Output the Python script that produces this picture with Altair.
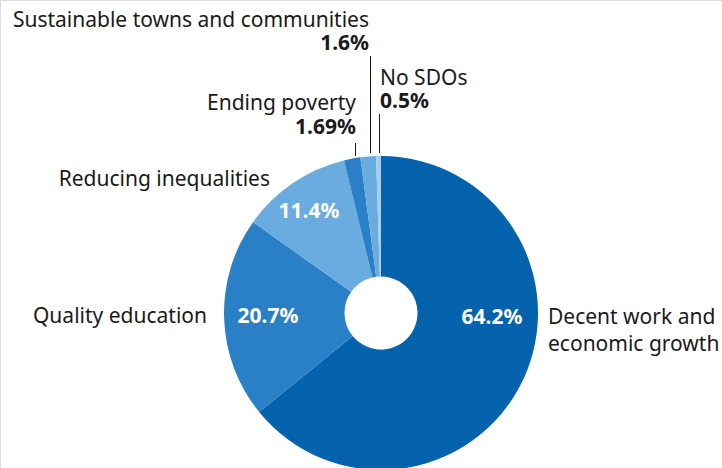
import altair as alt
import pandas as pd

# Data
categories = ["Decent work and economic growth", "Quality education", "Reducing inequalities",
              "Ending poverty", "Sustainable towns and communities", "No SDOs"]
values = [64.2, 20.7, 11.4, 1.69, 1.6, 0.5]
colors = ["#0563ae", "#2a80c6", "#6aacdf", "#2a80c6", "#6aacdf", "#a9cce9"]

# Annotation text
pct_labels = ["64.2%", "20.7%", "11.4%"]
name_lines = ["Decent work and", "economic growth", "Quality education", "Reducing inequalities",
              "Ending poverty", "Sustainable towns and communities", "No SDOs"]
small_pct = ["1.69%", "1.6%", "0.5%"]

# Annotation layout (pixels)
pct_x = [492, 268, 309]
pct_y = [324, 323, 218]
name_x = [548, 548, 207, 270, 356, 369, 380]
name_y = [324, 351, 323, 186, 110, 27, 85]
name_align = ["left", "left", "right", "right", "right", "right", "left"]
small_x = [356, 369, 380]
small_y = [134, 50, 108]
small_align = ["right", "right", "left"]
rule_x = [355.5, 370.5, 379.5]
rule_y = [143, 56, 114]
rule_y2 = [156, 153, 153]

CX, CY, R_OUT, R_IN = 381, 313, 157, 36.5
FONT = "Noto Sans"
FS = 21

pie_df = pd.DataFrame({"cat": categories, "val": values, "idx": list(range(len(values)))})

pie = alt.Chart(pie_df).mark_arc(outerRadius=R_OUT, innerRadius=R_IN).encode(
    theta=alt.Theta("val:Q", stack=True),
    order=alt.Order("idx:Q", sort="ascending"),
    color=alt.Color("cat:N", scale=alt.Scale(domain=categories, range=colors), legend=None),
    x=alt.value(CX),
    y=alt.value(CY),
)

pct_df = pd.DataFrame({"t": pct_labels, "x": pct_x, "y": pct_y})
pct = alt.Chart(pct_df).mark_text(font=FONT, fontSize=FS, fontWeight="bold", color="white",
                                  align="center", baseline="alphabetic").encode(
    x=alt.X("x:Q", scale=None), y=alt.Y("y:Q", scale=None), text="t:N")

name_df = pd.DataFrame({"t": name_lines, "x": name_x, "y": name_y, "a": name_align})
names_layers = []
for al in ["left", "right"]:
    names_layers.append(
        alt.Chart(name_df[name_df.a == al]).mark_text(font=FONT, fontSize=FS, color="#1a1a1a",
                                                      align=al, baseline="alphabetic").encode(
            x=alt.X("x:Q", scale=None), y=alt.Y("y:Q", scale=None), text="t:N"))

small_df = pd.DataFrame({"t": small_pct, "x": small_x, "y": small_y, "a": small_align})
small_layers = []
for al in ["left", "right"]:
    small_layers.append(
        alt.Chart(small_df[small_df.a == al]).mark_text(font=FONT, fontSize=FS, fontWeight="bold",
                                                       color="#1a1a1a", align=al,
                                                       baseline="alphabetic").encode(
            x=alt.X("x:Q", scale=None), y=alt.Y("y:Q", scale=None), text="t:N"))

rule_df = pd.DataFrame({"x": rule_x, "y": rule_y, "y2": rule_y2})
rules = alt.Chart(rule_df).mark_rule(color="#1a1a1a", strokeWidth=1).encode(
    x=alt.X("x:Q", scale=None), y=alt.Y("y:Q", scale=None), y2="y2:Q")

chart = alt.layer(pie, rules, pct, *names_layers, *small_layers).properties(
    width=722, height=468, padding=0, autosize=alt.AutoSizeParams(type="none")
).configure_view(stroke=None).configure(background="white")

chart.save("out.html", embed_options={"renderer": "svg", "actions": False})
